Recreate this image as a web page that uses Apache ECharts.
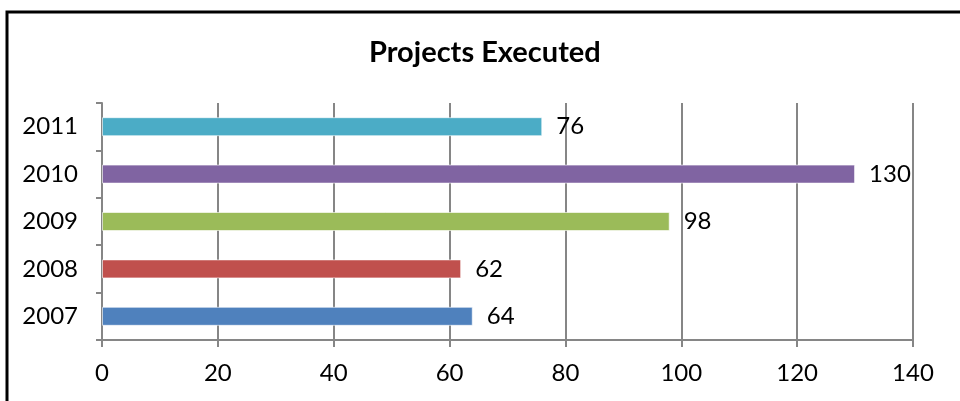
<!DOCTYPE html>
<html>
<head>
<meta charset="utf-8">
<script src="https://cdn.jsdelivr.net/npm/echarts@6/dist/echarts.min.js"></script>
<style>
html,body{margin:0;padding:0;background:#fff;}
#chart{width:960px;height:401px;}
</style>
</head>
<body>
<div id="chart"></div>
<script>
const titleText = 'Projects Executed';
const years = ['2007', '2008', '2009', '2010', '2011'];
const projects = [64, 62, 98, 130, 76];
const barColors = ['#4F81BD', '#C0504D', '#9BBB59', '#8064A2', '#4BACC6'];
const xTicks = [0, 20, 40, 60, 80, 100, 120, 140];

const FONT = 'Lato, "Open Sans", sans-serif';
const chart = echarts.init(document.getElementById('chart'));
chart.setOption({
  backgroundColor: '#fff',
  animation: false,
  title: {
    text: titleText,
    left: 364,
    top: 33,
    textStyle: { fontFamily: FONT, fontWeight: 'bold', fontSize: 29, color: '#000' }
  },
  graphic: [{
    type: 'rect',
    shape: { x: 7, y: 12, width: 1000, height: 500 },
    style: { fill: 'none', stroke: '#000', lineWidth: 3 }
  }],
  grid: { left: 102, right: 47, top: 103, bottom: 61 },
  xAxis: {
    type: 'value',
    min: xTicks[0],
    max: xTicks[xTicks.length - 1],
    interval: 20,
    axisLine: { show: true, lineStyle: { color: '#868686', width: 2 } },
    axisTick: { show: true, length: 7, lineStyle: { color: '#868686', width: 2 } },
    splitLine: { show: true, lineStyle: { color: '#868686', width: 2 } },
    axisLabel: { margin: 21, fontFamily: FONT, fontSize: 24, color: '#000' }
  },
  yAxis: {
    type: 'category',
    data: years,
    axisLine: { show: true, lineStyle: { color: '#868686', width: 2 } },
    axisTick: { show: true, length: 6, lineStyle: { color: '#868686', width: 2 } },
    axisLabel: { margin: 24, fontFamily: FONT, fontSize: 24, color: '#000' }
  },
  series: [{
    type: 'bar',
    data: projects.map((v, i) => ({ value: v, itemStyle: { color: barColors[i] } })),
    barWidth: 19,
    itemStyle: { borderColor: 'rgba(255,255,255,0.6)', borderWidth: 1 },
    label: {
      show: true,
      position: 'right',
      distance: 14,
      fontFamily: FONT,
      fontSize: 24,
      color: '#000'
    }
  }]
});
</script>
</body>
</html>
